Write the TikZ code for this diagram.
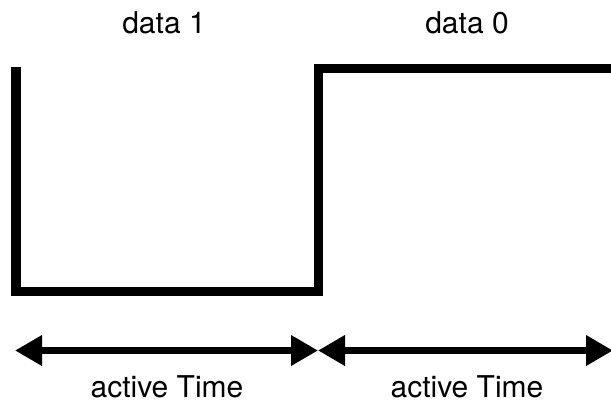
\documentclass[tikz,border=0pt]{standalone}
\usepackage{fontspec}
\setmainfont{TeX Gyre Heros}
\usetikzlibrary{arrows.meta}

\begin{document}
\begin{tikzpicture}[x=1pt,y=-1pt,
		wave/.style={line width=9.5pt, miter limit=10},
		timearrow/.style={line width=7pt, {Triangle[length=27pt,width=29pt]}-{Triangle[length=27pt,width=29pt]}},
		lbl/.style={anchor=base, font=\fontsize{30}{36}\selectfont}]
	
	\useasboundingbox (0,0) rectangle (611,402);
	
	% signal
	\coordinate (s0) at (16,67);
	\coordinate (s1) at (16,291.5);
	\coordinate (s2) at (318.5,291.5);
	\coordinate (s3) at (318.5,68.5);
	\coordinate (s4) at (615,68.5);
	\draw[wave] (s0) -- (s1) -- (s2) -- (s3) -- (s4);
	
	% time arrows
	\coordinate (t0) at (15,350.5);
	\coordinate (t1) at (318,350.5);
	\coordinate (t2) at (613,350.5);
	\draw[timearrow] (t0) -- (t1);
	\draw[timearrow] (t1) -- (t2);
	
	\node[lbl] (d1) at (164,33) {data 1};
	\node[lbl] (d0) at (467,33) {data 0};
	\node[lbl] (a1) at (167,397) {active Time};
	\node[lbl] (a0) at (467,397) {active Time};
	
\end{tikzpicture}
\end{document}
